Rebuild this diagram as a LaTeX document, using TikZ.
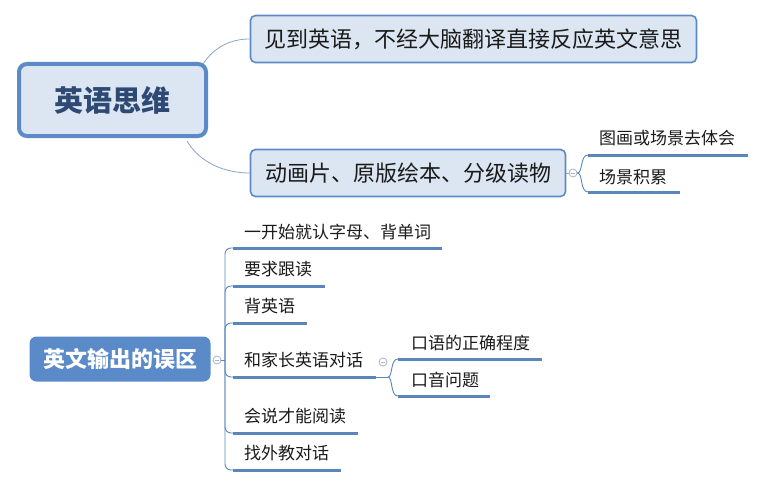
\documentclass[tikz,border=0pt]{standalone}
\usepackage{fontspec}
\setmainfont{Noto Sans CJK SC}
\definecolor{bordc}{HTML}{5B8AC6}
\definecolor{fillc}{HTML}{DCE6F2}
\definecolor{linec}{HTML}{8AA4C8}
\definecolor{ulc}{HTML}{5B86BC}
\definecolor{darkt}{HTML}{2E4A74}
\definecolor{boxdark}{HTML}{5B8AC8}
\definecolor{circc}{HTML}{A8B4C8}
\definecolor{textc}{HTML}{1A1A1A}
\begin{document}
\begin{tikzpicture}[x=1pt,y=-1pt,
  centerbox/.style={draw=bordc,line width=4pt,fill=fillc,rounded corners=8pt,
    minimum width=187pt,minimum height=72pt,inner sep=0pt,
    font=\fontsize{29}{29}\selectfont\bfseries,text=darkt},
  branchbox/.style={draw=bordc,line width=1.6pt,fill=fillc,rounded corners=5pt,
    minimum height=47pt,inner sep=0pt,font=\fontsize{22}{22}\selectfont,text=textc},
  darkbox/.style={fill=boxdark,rounded corners=7pt,minimum width=181pt,minimum height=45pt,
    inner sep=0pt,font=\fontsize{22}{22}\selectfont\bfseries,text=white},
  conn/.style={draw=linec,line width=0.8pt},
  bracket/.style={draw=ulc,line width=0.9pt},
  uline/.style={draw=ulc,line width=3pt},
  leaf/.style={anchor=west,inner sep=0pt,font=\fontsize{17}{17}\selectfont,text=textc},
  knob/.style={circle,draw=circc,line width=0.8pt,fill=white,minimum size=8pt,inner sep=0pt,
    path picture={\draw[circc,line width=0.7pt] ([xshift=-2pt]path picture bounding box.center) -- ([xshift=2pt]path picture bounding box.center);}}]
\useasboundingbox (0,0) rectangle (766,487);

% ---------- top part ----------
\node[centerbox] (c) at (112.5,100) {英语思维};
\node[branchbox,minimum width=446pt] (b1) at (473.5,39) {见到英语，不经大脑翻译直接反应英文意思};
\node[branchbox,minimum width=315pt] (b2) at (408,173) {动画片、原版绘本、分级读物};

\coordinate (c1) at (203,64);
\coordinate (c2) at (187,141);
\draw[conn] (c1) .. controls (215,46) and (232,39) .. (b1.west);
\draw[conn] (c2) .. controls (200,163) and (225,173) .. (b2.west);

\node[knob] (k1) at (573,173) {};
\draw[conn] (b2.east) -- (k1.west);
\coordinate (s1a) at (588,155); \coordinate (s1b) at (748,155);
\coordinate (s2a) at (588,192); \coordinate (s2b) at (680,192);
\draw[bracket] (k1.east) .. controls (583,173) and (580,155) .. (s1a);
\draw[bracket] (k1.east) .. controls (583,173) and (580,192) .. (s2a);
\draw[uline] (s1a) -- (s1b);
\draw[uline] (s2a) -- (s2b);
\node[leaf] (t1) at (599,138) {图画或场景去体会};
\node[leaf] (t2) at (599,177) {场景积累};

% ---------- bottom part ----------
\node[darkbox] (d) at (120,359) {英文输出的误区};
\node[knob] (k2) at (217,360) {};
\coordinate (hub) at (225,360);
\draw[bracket] (k2.east) -- (hub);

\foreach \n/\y/\e in {1/248/442,2/286/325,3/323/307,4/377/376,5/433/358,6/470/341}{
  \coordinate (u\n a) at (233,\y);
  \coordinate (u\n b) at (\e,\y);
  \draw[bracket,rounded corners=6pt] (hub) |- (u\n a);
  \draw[uline] (u\n a) -- (u\n b);
}
\node[leaf] (i1) at (244,232) {一开始就认字母、背单词};
\node[leaf] (i2) at (244,269) {要求跟读};
\node[leaf] (i3) at (244,306) {背英语};
\node[leaf] (i4) at (244,360) {和家长英语对话};
\node[leaf] (i5) at (244,416) {会说才能阅读};
\node[leaf] (i6) at (244,453) {找外教对话};

\node[knob] (k3) at (383,362) {};
\coordinate (j) at (388,377);
\draw[bracket] (u4b) -- (j);
\coordinate (v1a) at (398,359); \coordinate (v1b) at (542,359);
\coordinate (v2a) at (398,396); \coordinate (v2b) at (490,396);
\draw[bracket] (j) .. controls (393,377) and (390,359) .. (v1a);
\draw[bracket] (j) .. controls (393,377) and (390,396) .. (v2a);
\draw[uline] (v1a) -- (v1b);
\draw[uline] (v2a) -- (v2b);
\node[leaf] (w1) at (411,343) {口语的正确程度};
\node[leaf] (w2) at (411,380) {口音问题};
\end{tikzpicture}
\end{document}
